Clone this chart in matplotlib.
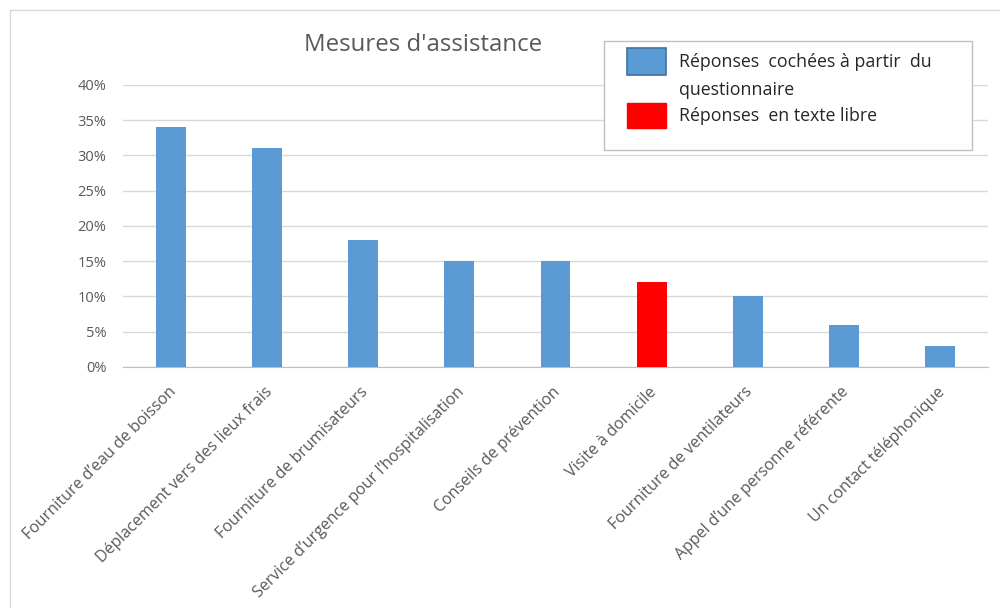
import matplotlib.pyplot as plt
import matplotlib.transforms as mtransforms
from matplotlib.patches import Rectangle
from matplotlib.lines import Line2D
from matplotlib.ticker import PercentFormatter

categories = [
    "Fourniture d\u2019eau de boisson",
    "D\u00e9placement vers des lieux frais",
    "Fourniture de brumisateurs",
    "Service d\u2019urgence pour l\u2019hospitalisation",
    "Conseils de pr\u00e9vention",
    "Visite \u00e0 domicile",
    "Fourniture de ventilateurs",
    "Appel d\u2019une personne r\u00e9f\u00e9rente",
    "Un contact t\u00e9l\u00e9phonique",
]
values = [34, 31, 18, 15, 15, 12, 10, 6, 3]
free_text = [False, False, False, False, False, True, False, False, False]
legend_labels = ["R\u00e9ponses  coch\u00e9es \u00e0 partir  du",
                 "questionnaire",
                 "R\u00e9ponses  en texte libre"]

blue = "#5B9BD5"
red = "#FF0000"
grey = "#595959"

plt.rcParams['font.family'] = ['Open Sans', 'DejaVu Sans']

W, H = 1000, 608
fig = plt.figure(figsize=(W / 100, H / 100), dpi=100)
ax = fig.add_axes([0.123, 0.3964, 0.865, 0.4638])


def px(x, y):
    # pixel position (from top left) -> figure fraction
    return x / W, 1 - y / H


colors = [red if f else blue for f in free_text]
ax.bar(range(len(values)), values, width=0.31, color=colors, zorder=3)

ax.set_xlim(-0.5, len(values) - 0.5)
ax.set_ylim(0, 40)
ax.set_yticks(range(0, 41, 5))
ax.yaxis.set_major_formatter(PercentFormatter(decimals=0))
ax.grid(axis='y', color='#D9D9D9', linewidth=1, zorder=0)
for s in ['top', 'right', 'left']:
    ax.spines[s].set_visible(False)
ax.spines['bottom'].set_color('#BFBFBF')
ax.tick_params(axis='both', length=0, colors=grey)
ax.tick_params(axis='y', pad=12, labelsize=10.5)
ax.set_xticks(range(len(categories)))
ax.set_xticklabels(categories, rotation=45, ha='right', rotation_mode='anchor',
                   fontsize=11.5)
shift = mtransforms.ScaledTranslation(-0.03, -0.12, fig.dpi_scale_trans)
for lab in ax.get_xticklabels():
    lab.set_transform(lab.get_transform() + shift)

fig.text(*px(423, 45), "Mesures d'assistance", ha='center', va='center',
         fontsize=17.3, color=grey)

# legend drawn by hand to follow the layout of the original
x0, y0 = px(604, 150)
x1, y1 = px(972, 41)
fig.add_artist(Rectangle((x0, y0), x1 - x0, y1 - y0, transform=fig.transFigure,
                         facecolor='white', edgecolor='#BFBFBF', lw=1, zorder=5))
bx, by = px(627, 75)
fig.add_artist(Rectangle((bx, by), 39 / W, 27 / H, transform=fig.transFigure,
                         facecolor=blue, edgecolor='#41719C', lw=1.2, zorder=6))
rx, ry = px(627, 128)
fig.add_artist(Rectangle((rx, ry), 39 / W, 25 / H, transform=fig.transFigure,
                         facecolor=red, edgecolor=red, lw=1, zorder=6))
for label, yy in zip(legend_labels, [62, 90, 116]):
    fig.text(*px(679, yy), label, ha='left', va='center', fontsize=12.8,
             color='#262626', zorder=7)

# chart area border (top and left)
fig.add_artist(Line2D([0.01, 1.0], [1 - 10 / H, 1 - 10 / H], color='#D9D9D9', lw=1))
fig.add_artist(Line2D([0.01, 0.01], [0.0, 1 - 10 / H], color='#D9D9D9', lw=1))

fig.savefig('out.png', dpi=100, facecolor='white')
